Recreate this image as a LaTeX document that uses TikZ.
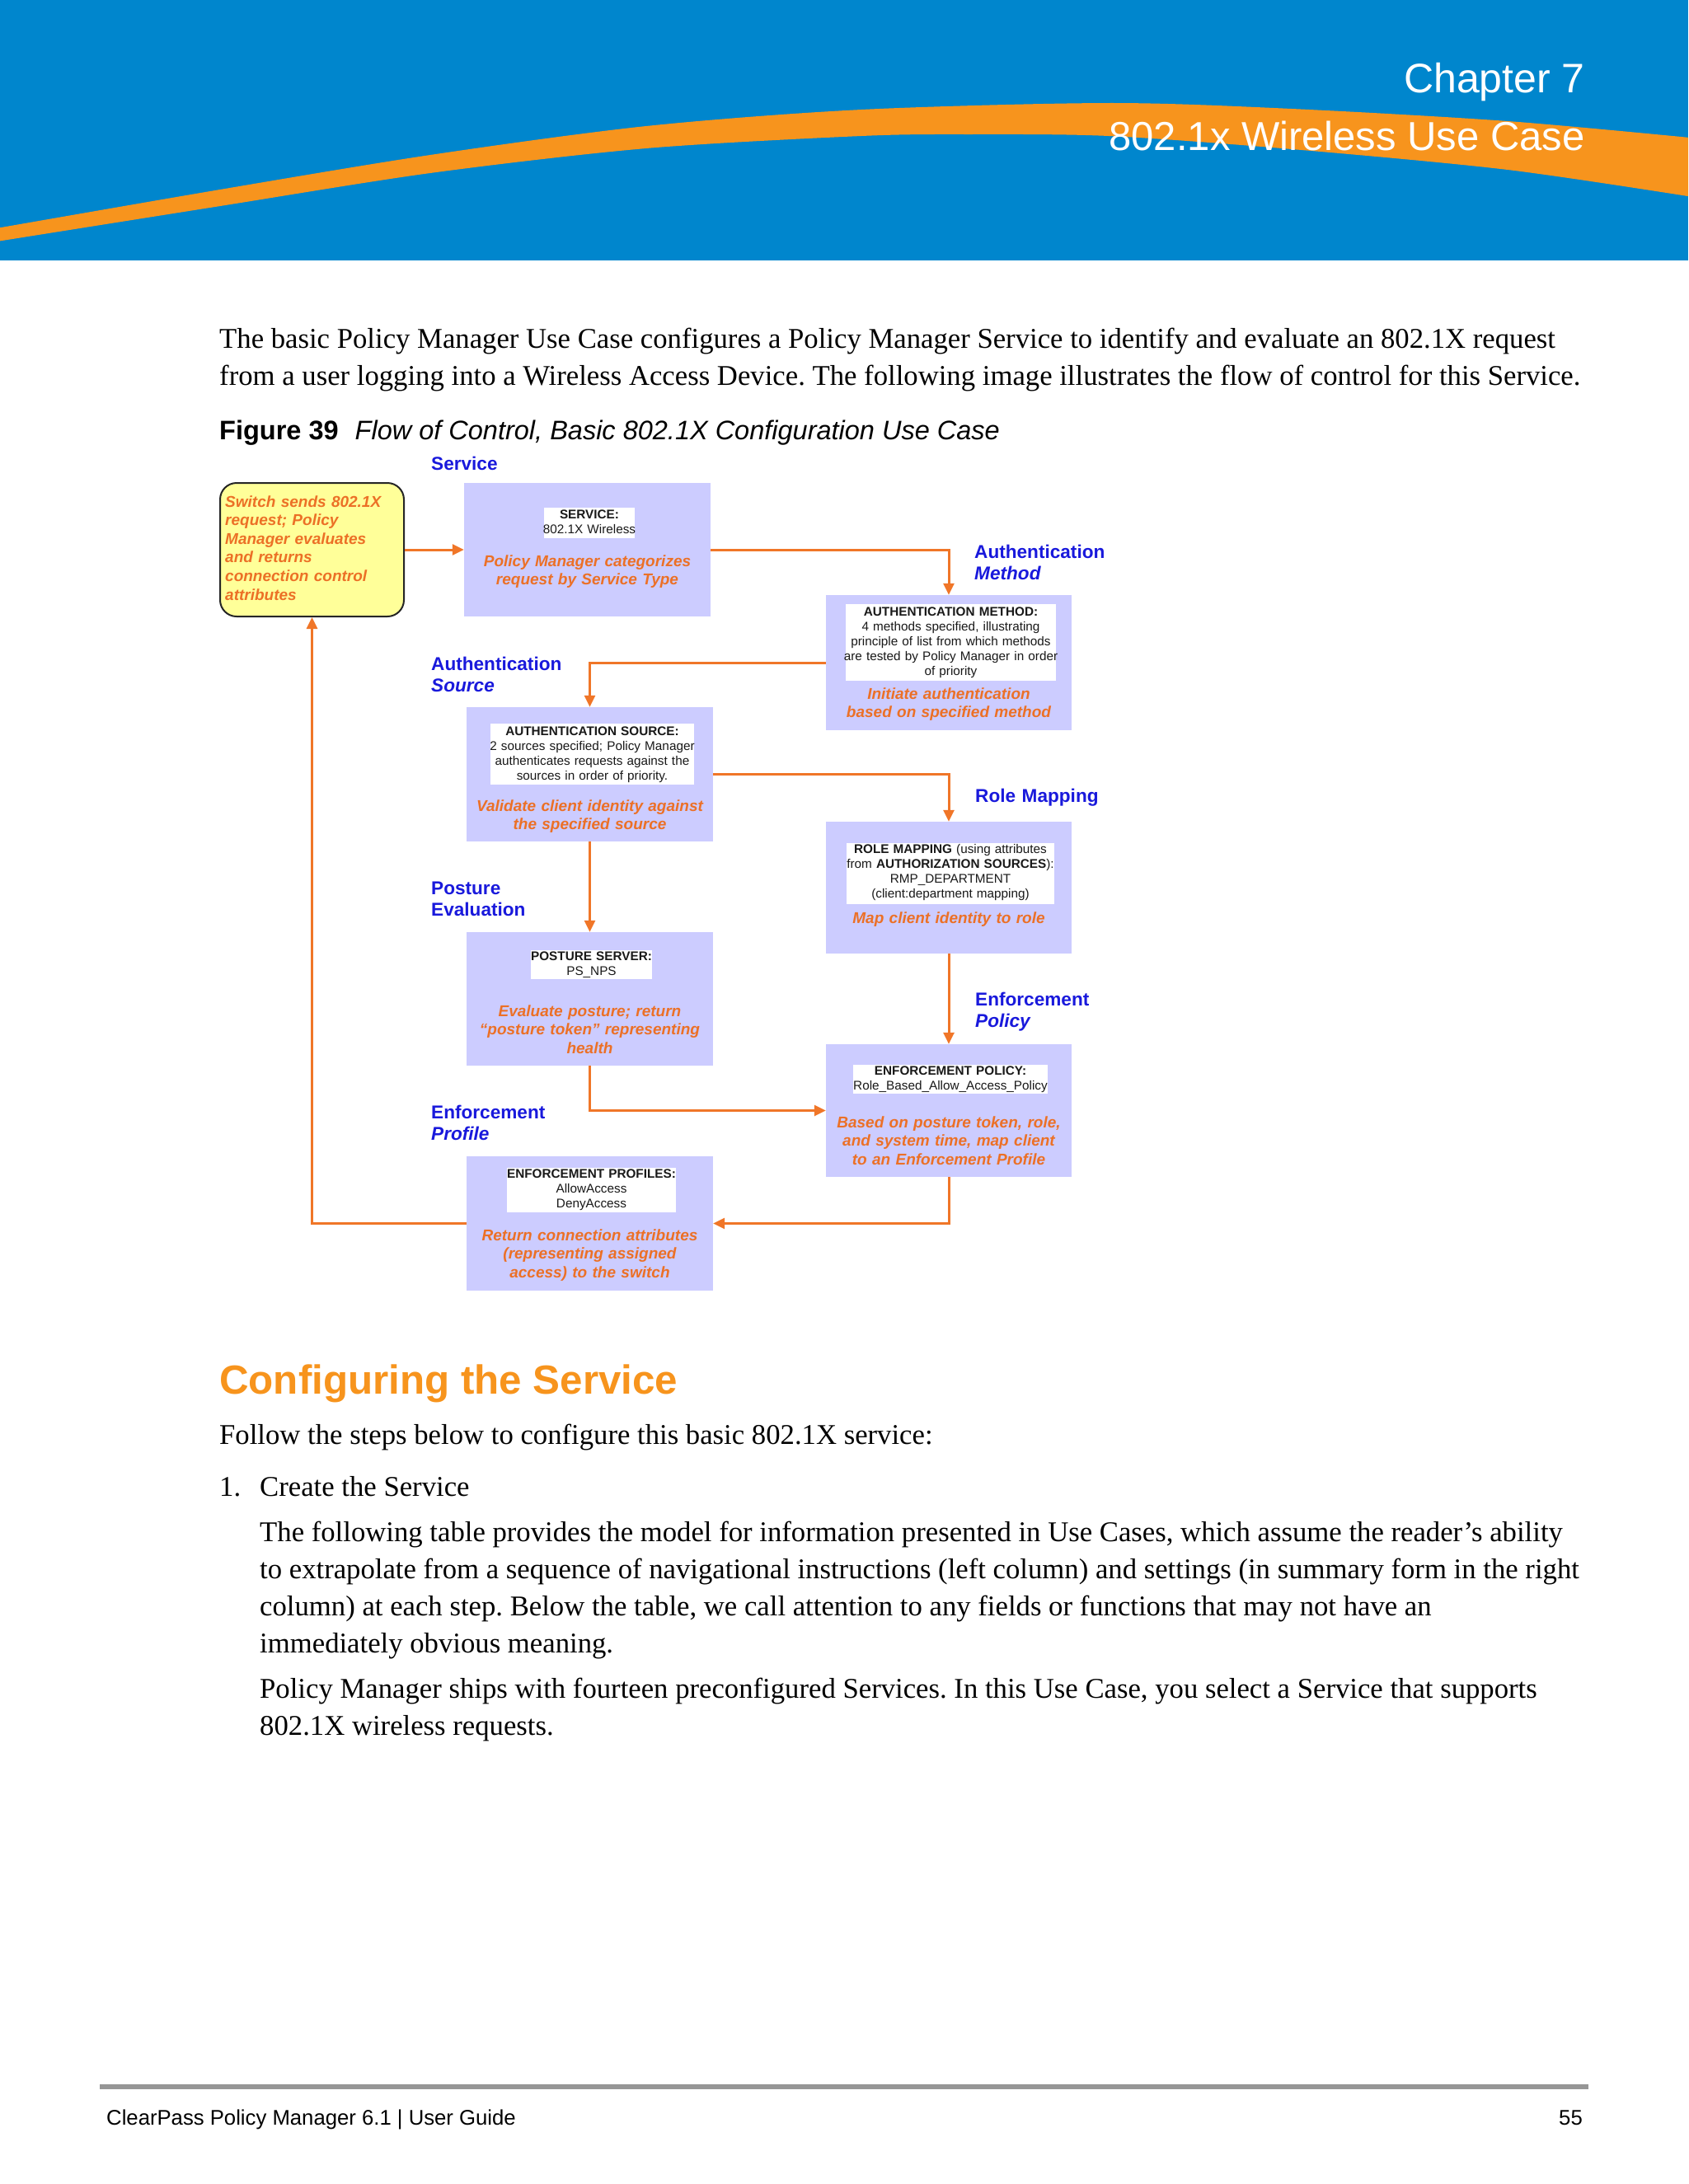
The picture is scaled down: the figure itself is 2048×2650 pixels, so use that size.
\documentclass[tikz,border=0pt]{standalone}
\usepackage{fontspec}
\setmainfont{Liberation Serif}
\setsansfont{Liberation Sans}
\usetikzlibrary{arrows.meta}
\frenchspacing
\definecolor{hblue}{RGB}{0,134,205}
\definecolor{horange}{RGB}{247,148,29}
\definecolor{lineor}{RGB}{240,118,40}
\definecolor{txtor}{RGB}{236,112,38}
\definecolor{lblue}{RGB}{25,25,220}
\definecolor{lav}{RGB}{204,204,255}
\definecolor{yelfill}{RGB}{255,255,153}
\definecolor{footgray}{RGB}{150,150,150}
\newcommand\fsz[2]{\fontsize{#1}{#2}\selectfont}
\begin{document}
\begin{tikzpicture}[x=1pt,y=-1pt,
  conn/.style={draw=lineor, line width=3pt, -{Triangle[length=14pt,width=13pt]}},
  panel/.style={fill=lav, inner sep=0pt, minimum width=#1},
  wbox/.style={fill=white, inner sep=0pt},
  otext/.style={anchor=base, inner sep=0pt, align=center, text width=300pt, font=\fsz{19}{22.5}\sffamily\bfseries\itshape, text=txtor},
  itext/.style={anchor=base, inner sep=0pt, align=center, text width=300pt, font=\fsz{15.3}{18.2}\sffamily, text=black!90},
  lbl/.style={anchor=base west, inner sep=0pt, align=left, text width=260pt, font=\fsz{22.6}{26.5}\sffamily\bfseries, text=lblue},
  body/.style={anchor=base west, inner sep=0pt, font=\fsz{34.7}{45}\rmfamily\frenchspacing, text=black}
]
\useasboundingbox (0,0) rectangle (2048,2650);
\fill[white] (0,0) rectangle (2048,2650);

% header
\fill[hblue] (0,0) rectangle (2048,316);
\begin{scope}
\clip (0,0) rectangle (2048,316);
\fill[horange] plot[smooth] coordinates {(-10,278) (261,231) (522,188) (784,153) (1045,133) (1345,125) (1567,132) (1829,147) (2060,168)}
  -- plot[smooth] coordinates {(2060,240) (1829,206) (1567,181) (1345,165) (1175,163) (1045,165) (784,180) (522,210) (261,251) (-10,294)} -- cycle;
\end{scope}
\node[anchor=base east, inner sep=0pt, font=\fsz{50}{50}\sffamily, text=white] (chap) at (1923,112) {Chapter 7};
\node[anchor=base east, inner sep=0pt, font=\fsz{49}{49}\sffamily, text=white] (chtitle) at (1923,182) {802.1x Wireless Use Case};

% intro
\node[body] (p1a) at (266,422) {The basic Policy Manager Use Case configures a Policy Manager Service to identify and evaluate an 802.1X request};
\node[body] (p1b) at (266,467) {from a user logging into a Wireless Access Device. The following image illustrates the flow of control for this Service.};
\node[anchor=base west, inner sep=0pt, font=\fsz{32.5}{32.5}\sffamily] (cap) at (266,533) {\textbf{Figure 39}\hspace{20pt}\textit{Flow of Control, Basic 802.1X Configuration Use Case}};

% diagram panels
\node[panel=223pt, minimum height=162pt, draw=black!85, line width=2pt, fill=yelfill, rounded corners=20pt] (sw) at (378.5,667) {};
\node[panel=299pt, minimum height=162pt] (svc) at (712.5,667) {};
\node[panel=298pt, minimum height=164pt] (am) at (1151,804) {};
\node[panel=299pt, minimum height=163pt] (as) at (715.5,939.5) {};
\node[panel=298pt, minimum height=160pt] (rm) at (1151,1077) {};
\node[panel=299pt, minimum height=162pt] (pe) at (715.5,1212) {};
\node[panel=298pt, minimum height=161pt] (ep) at (1151,1347.5) {};
\node[panel=299pt, minimum height=163pt] (epr) at (715.5,1484.5) {};

% white inner boxes
\node[wbox, minimum width=110pt, minimum height=37pt] (svcw) at (715,634.5) {};
\node[wbox, minimum width=255pt, minimum height=93pt] (amw) at (1153.5,779.5) {};
\node[wbox, minimum width=247pt, minimum height=74pt] (asw) at (718.5,915) {};
\node[wbox, minimum width=252pt, minimum height=74pt] (rmw) at (1153,1060) {};
\node[wbox, minimum width=147pt, minimum height=35pt] (pew) at (717.5,1170.5) {};
\node[wbox, minimum width=236pt, minimum height=35pt] (epw) at (1153,1309.5) {};
\node[wbox, minimum width=205pt, minimum height=54pt] (eprw) at (717.5,1444) {};

% inner texts
\node[itext] (svci) at (715,629) {\textbf{SERVICE:}\\802.1X Wireless};
\node[itext] (ami) at (1153.5,747) {\textbf{AUTHENTICATION METHOD:}\\4 methods specified, illustrating\\principle of list from which methods\\are tested by Policy Manager in order\\of priority};
\node[itext] (asi) at (718.5,892) {\textbf{AUTHENTICATION SOURCE:}\\2 sources specified; Policy Manager\\authenticates requests against the\\sources in order of priority.};
\node[itext] (rmi) at (1153,1035) {\textbf{ROLE MAPPING} (using attributes\\from \textbf{AUTHORIZATION SOURCES}):\\RMP\_DEPARTMENT\\(client:department mapping)};
\node[itext] (pei) at (717.5,1165) {\textbf{POSTURE SERVER:}\\PS\_NPS};
\node[itext] (epi) at (1153,1304) {\textbf{ENFORCEMENT POLICY:}\\Role\_Based\_Allow\_Access\_Policy};
\node[itext] (epri) at (717.5,1429) {\textbf{ENFORCEMENT PROFILES:}\\AllowAccess\\DenyAccess};

% orange texts
\node[anchor=base west, inner sep=0pt, align=left, text width=215pt, font=\fsz{19}{22.6}\sffamily\bfseries\itshape, text=txtor] (swt) at (273,615) {Switch sends 802.1X\\request; Policy\\Manager evaluates\\and returns\\connection control\\attributes};
\node[otext] (svct) at (712.5,687) {Policy Manager categorizes\\request by Service Type};
\node[otext] (amt) at (1151,848) {Initiate authentication\\based on specified method};
\node[otext] (ast) at (715.5,984) {Validate client identity against\\the specified source};
\node[otext] (rmt) at (1151,1120) {Map client identity to role};
\node[otext] (pet) at (715.5,1233) {Evaluate posture; return\\“posture token” representing\\health};
\node[otext] (ept) at (1151,1368) {Based on posture token, role,\\and system time, map client\\to an Enforcement Profile};
\node[otext] (eprt) at (715.5,1505) {Return connection attributes\\(representing assigned\\access) to the switch};

% blue labels
\node[lbl] (l1) at (523,570) {Service};
\node[lbl] (l2) at (1182,677) {Authentication\\\textit{Method}};
\node[lbl] (l3) at (523,813) {Authentication\\\textit{Source}};
\node[lbl] (l4) at (1183,973) {Role Mapping};
\node[lbl] (l5) at (523,1085) {Posture\\Evaluation};
\node[lbl] (l6) at (1183,1220) {Enforcement\\\textit{Policy}};
\node[lbl] (l7) at (523,1357) {Enforcement\\\textit{Profile}};

% connectors
\draw[conn] (sw.east) -- (svc.west);
\draw[conn] (svc.east) -| (am.north);
\draw[conn] (am.west) -| (as.north);
\draw[conn] (as.east) -| (rm.north);
\draw[conn] (as.south) -- (pe.north);
\draw[conn] (rm.south) -- (ep.north);
\draw[conn] (pe.south) |- (ep.west);
\draw[conn] (ep.south) |- (epr.east);
\draw[conn] (epr.west) -| (sw.south);

% section
\node[anchor=base west, inner sep=0pt, font=\fsz{49.3}{50}\sffamily\bfseries, text=horange] (sec) at (266,1691) {Configuring the Service};
\node[body] (f1) at (266,1752) {Follow the steps below to configure this basic 802.1X service:};
\node[body] (n1) at (266,1815) {1.};
\node[body] (s1) at (315,1815) {Create the Service};
\node[body] (q1) at (315,1870) {The following table provides the model for information presented in Use Cases, which assume the reader’s ability};
\node[body] (q2) at (315,1915) {to extrapolate from a sequence of navigational instructions (left column) and settings (in summary form in the right};
\node[body] (q3) at (315,1960) {column) at each step. Below the table, we call attention to any fields or functions that may not have an};
\node[body] (q4) at (315,2005) {immediately obvious meaning.};
\node[body] (r1) at (315,2060) {Policy Manager ships with fourteen preconfigured Services. In this Use Case, you select a Service that supports};
\node[body] (r2) at (315,2105) {802.1X wireless requests.};

% footer
\coordinate (fl) at (121,2532);
\coordinate (fr) at (1927,2532);
\draw[footgray, line width=6pt] (fl) -- (fr);
\node[anchor=base west, inner sep=0pt, font=\fsz{25.7}{25.7}\sffamily] (foot) at (129,2578) {ClearPass Policy Manager 6.1 | User Guide};
\node[anchor=base east, inner sep=0pt, font=\fsz{25.7}{25.7}\sffamily] (pg) at (1920,2578) {55};
\end{tikzpicture}
\end{document}
